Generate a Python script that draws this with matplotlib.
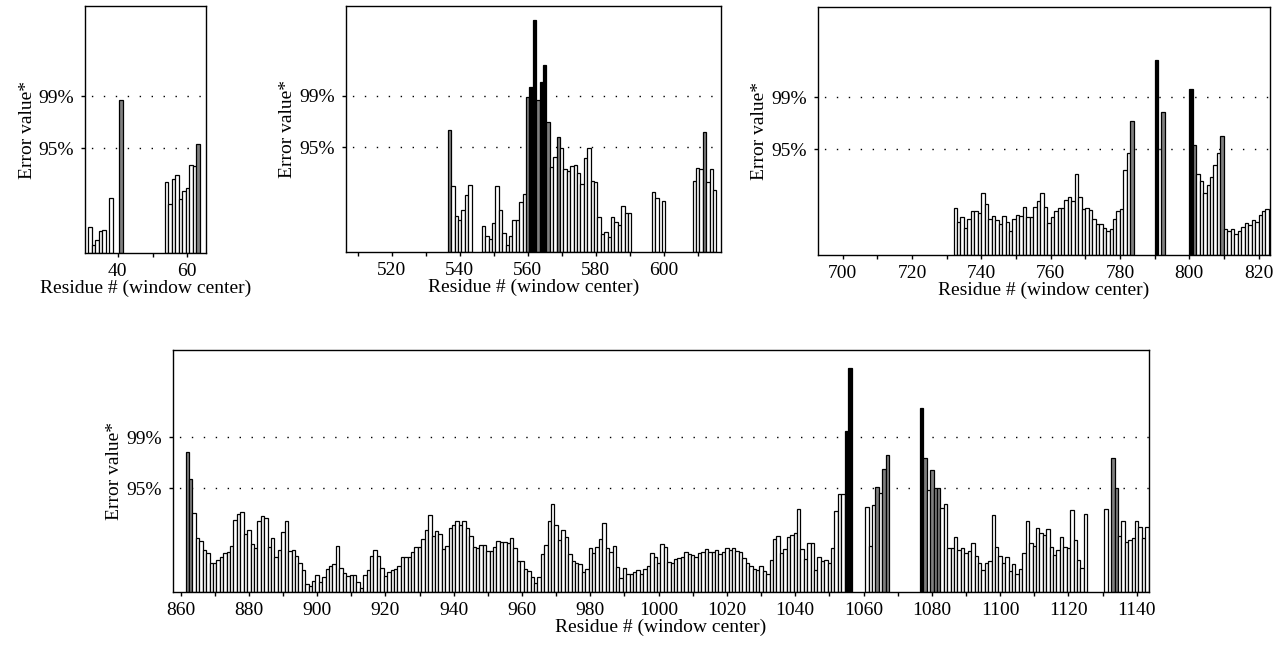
import matplotlib
matplotlib.use('Agg')
import matplotlib.pyplot as plt
from matplotlib.ticker import MultipleLocator

plt.rcParams['font.family'] = ['Liberation Serif', 'DejaVu Serif']
plt.rcParams['font.size'] = 14

# Significance levels (same vertical scale in every panel)
Y95 = 105
Y99 = 157

# Runs of consecutive residues: (first residue, error values)
p1_runs = [
    (32, [26, 7.7, 13, 22, 23]),
    (38, [55]),
    (41, [152.7]),
    (54, [71, 49, 74, 78, 54, 62, 65, 88, 87, 109]),
]

p2_runs = [
    (537, [122.7, 66.7, 36, 31.7, 41.7, 57.7, 67.7]),
    (547, [26, 16, 12.7, 29.3, 66.3, 41.7, 19.3, 6.7, 16, 31.7,
           31.7, 49.7, 58.7, 156, 165.3, 233, 152.7, 170.3, 188, 131,
           85.3, 95.3, 115, 104, 83, 81.7, 86.3, 87.7, 79.7, 68.7,
           94.3, 104.3, 71.7, 70.3, 34.7, 17.7, 20.3, 14.7, 34.7, 30.3,
           26.7, 46.3, 39.3, 39.3]),
    (597, [60.3, 54.3]),
    (600, [51]),
    (609, [71, 84.7, 83.3, 120, 70.7, 83, 62]),
]

p3_runs = [
    (732, [46.7, 32.7, 37.3, 27, 36, 43.7, 43.7, 41.3, 61.7, 51,
           35.7, 38.3, 35, 31, 39, 33.3, 24.3, 35.7, 40, 39,
           47.7, 37.7, 37.7, 47.7, 53.7, 61.7, 47.7, 32.3, 37.7, 43.7,
           46.7, 46.7, 55, 57.7, 53.7, 80.7, 57.7, 45.7, 46.7, 44.3,
           35.7, 31, 31, 26.7, 24.3, 25.7, 35.7, 43.3, 45.7, 84.3,
           101, 133.7]),
    (790, [194]),
    (792, [142.7]),
    (800, [165, 109, 81, 74, 62, 70, 78, 90, 101, 118,
           26, 24, 26, 21, 24, 28, 32, 30, 35, 33, 40, 44, 46]),
]

p4_runs = [
    (862, [142.3, 114.7, 80.7, 55, 52, 43.3, 39.7, 29.7, 29.7, 33,
           36, 39.7, 40.7, 47.3, 73, 78.7, 81.7, 58.7, 62.7, 49,
           45, 72, 76.7, 75.3, 46, 55, 36, 43, 60.7, 72.3,
           41.7, 42.3, 36.3, 29.7, 22.3, 8, 6.7, 11.3, 18, 10.7,
           15.7, 23.3, 26.7, 28.3, 47, 24.3, 20, 16.7, 17.7, 17.7,
           10.7,
           4.7, 18, 22.3, 36.7, 42.7, 36.7, 24.7, 17, 20.3, 22.3,
           23.7, 26.7, 35.7, 35.7, 35.7, 40.3, 45.7, 45.7, 53.7, 62.7,
           78.3, 57, 61.7, 59.3, 43.7, 47, 65, 68.3, 71.7, 67.7,
           71.7, 65, 57, 45.7, 44.7, 48.3, 48.3, 41.3, 41.3, 46,
           51.7, 50.7, 50.7, 49.7, 54.7, 45, 31.7, 31.7, 23.7, 21.3,
           15, 9.3, 15, 38.7, 48.3, 71.7,
           89.7, 68.3, 53, 63, 56, 38.3, 31.7, 29.7, 28.3, 20.3,
           23.7, 44.7, 39.3, 46, 53.7, 69.7, 45, 40.3, 47, 25.7,
           14.7, 24.7, 19, 19, 20.3, 22.3, 19, 23.7, 27, 39.3,
           36, 29.3, 49, 46, 30.3, 29.3, 33.7, 34.7, 36, 40.3,
           39, 38, 36, 39.3, 40.3, 43.7, 40.3, 40.3, 42.7, 39,
           40.3, 44.7, 42.7,
           45, 42, 40.3, 34.7, 29.3, 26.7, 23.7, 22.7, 26.7, 21.3,
           19, 32.7, 53.7, 57, 39.3, 43.7, 56, 57.7, 60, 84,
           43.7, 33.7, 50.3, 50.3, 22.3, 35.7, 31.3, 32.7, 29.3, 44.7,
           82.7, 99.7, 99.7, 163, 226.7]),
    (1061, [86.7, 47, 88.7, 106.3, 100.3, 124.7, 138.7]),
    (1077, [186.7, 135.7, 103, 123.3, 105, 105, 85.3, 89.7, 44.7, 44.7,
            56, 42.7, 44.7, 39.3, 41.7, 50.3, 37, 29.3, 23, 29.3,
            31.3, 78.3, 46, 37, 29.3, 36, 21.3, 29, 19, 23.7,
            39.3, 72, 50.3, 47, 65, 60.3, 58.3, 63.7, 46, 38,
            42.7, 56, 46, 44.7, 83, 52.7, 32.7, 24.7, 79.7]),
    (1131, [84.7]),
    (1133, [136.3, 105.3, 57, 72, 51, 53, 55, 72, 66.3, 55, 66.3]),
]


# Expand runs into residue / value lists
def expand(runs):
    res, vals = [], []
    for start, values in runs:
        for i, v in enumerate(values):
            res.append(start + i)
            vals.append(v)
    return res, vals


# White below 95%, gray between 95% and 99%, black above 99%
def bar_color(v):
    if v > Y99:
        return 'black'
    if v >= Y95:
        return '#808080'
    return 'white'


def draw_panel(ax, runs, xlim, ymax, align='center'):
    res, vals = expand(runs)
    ax.bar(res, vals, width=1.0, align=align, color=[bar_color(v) for v in vals],
           edgecolor='black', linewidth=0.9, zorder=2)
    for lvl in (Y95, Y99):
        ax.axhline(lvl, color='black', linestyle=(4, (1, 7.6)), linewidth=1.0, zorder=1)
    ax.set_xlim(xlim)
    ax.set_ylim(0, ymax)
    ax.set_yticks([Y95, Y99])
    ax.set_yticklabels(['95%', '99%'])
    ax.xaxis.set_major_locator(MultipleLocator(20))
    ax.xaxis.set_minor_locator(MultipleLocator(10))
    ax.tick_params(axis='both', which='both', direction='out', length=3, width=1)
    ax.tick_params(axis='x', which='both', pad=4)
    ax.tick_params(axis='y', which='both', pad=5)
    for s in ax.spines.values():
        s.set_linewidth(1.0)
    ax.set_xlabel('Residue # (window center)', labelpad=0)
    ax.set_ylabel('Error value*', labelpad=2)


fig = plt.figure(figsize=(12.81, 6.54), dpi=100)

ax1 = fig.add_axes([0.0664, 0.6131, 0.0945, 0.3777])
draw_panel(ax1, p1_runs, (30.6, 65.4), 247)

ax2 = fig.add_axes([0.2699, 0.6147, 0.2930, 0.3761])
draw_panel(ax2, p2_runs, (506.5, 616.9), 247)

ax3 = fig.add_axes([0.6383, 0.6101, 0.3531, 0.3797])
draw_panel(ax3, p3_runs, (692.8, 823.3), 247, align='edge')

ax4 = fig.add_axes([0.1348, 0.0943, 0.7619, 0.3705])
draw_panel(ax4, p4_runs, (857.7, 1143.5), 245)

fig.savefig('out.png', dpi=100)
